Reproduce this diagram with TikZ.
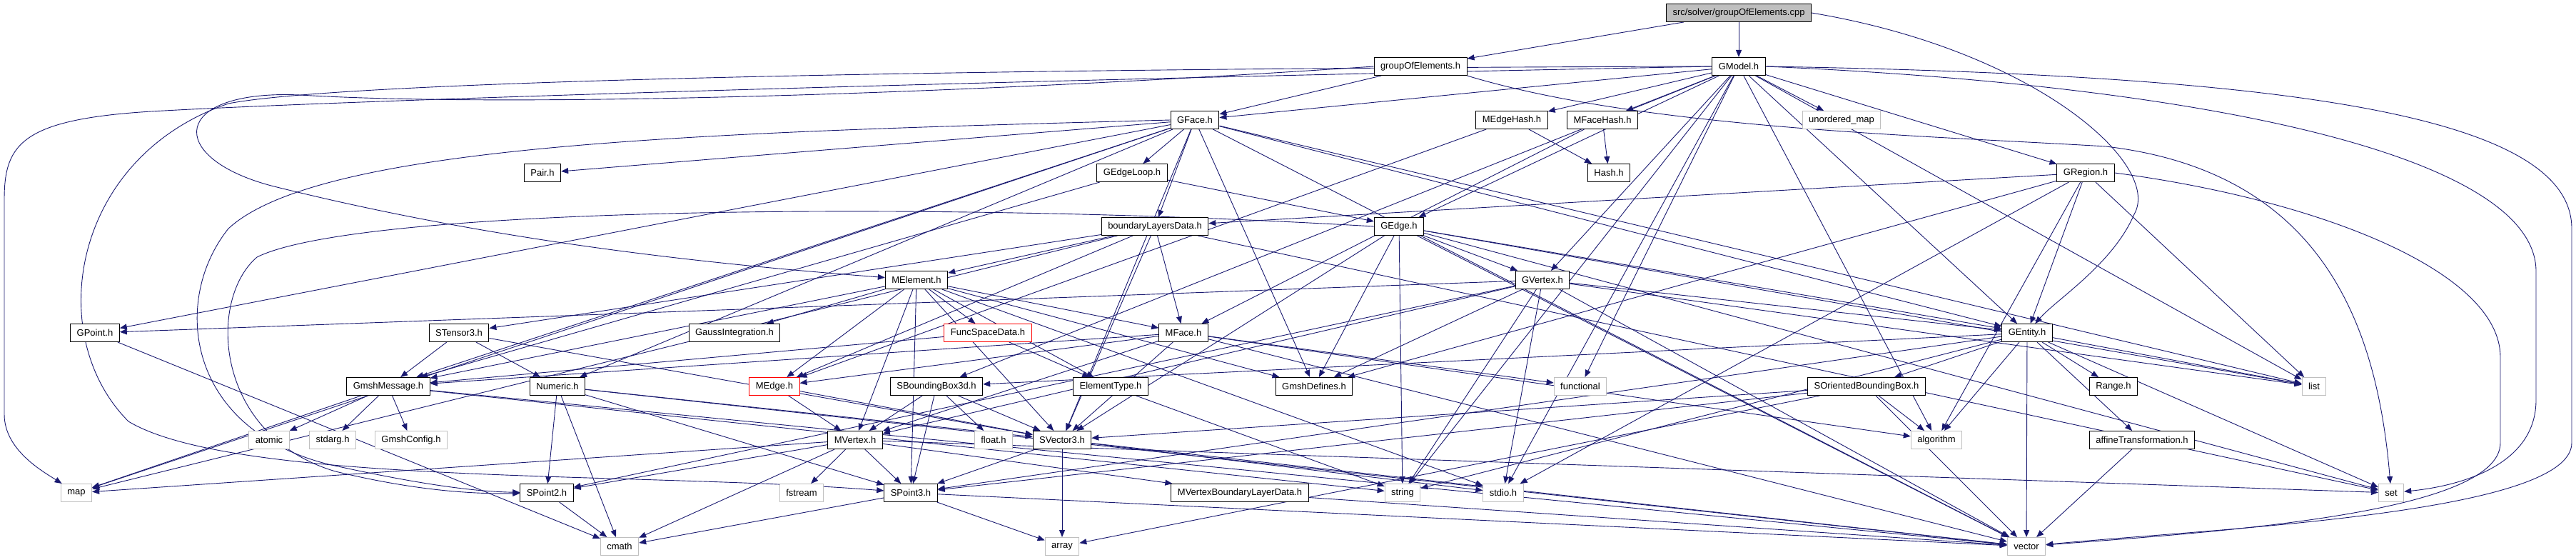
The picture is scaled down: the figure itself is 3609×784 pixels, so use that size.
\documentclass[tikz,border=0pt]{standalone}
\usepackage{fontspec}
\newfontfamily\nodefont{Liberation Sans}
\usetikzlibrary{arrows.meta}
\pgfdeclarelayer{bg}
\pgfsetlayers{bg,main}
\definecolor{edgeblue}{HTML}{191970}
\definecolor{sysgray}{HTML}{BFBFBF}
\begin{document}
\begin{tikzpicture}[x=1pt,y=-1pt,
  box/.style={draw=black, fill=white, line width=1pt, minimum height=25pt, inner xsep=9pt, inner ysep=0pt, font=\nodefont\fontsize{13}{15}\selectfont},
  sys/.style={box, draw=sysgray},
  trunc/.style={box, draw=red},
  root/.style={box, fill=sysgray},
  dep/.style={draw=edgeblue, line width=0.9pt, -{Triangle[length=10pt,width=8pt]}}]
\path[use as bounding box] (0,0) rectangle (3609,784);
% row 0-1
\node[root] (src) at (2436,18) {src/solver/groupOfElements.cpp};
\node[box] (goe) at (1990,93) {groupOfElements.h};
\node[box] (GModel) at (2436,93) {GModel.h};
% row 2
\node[box] (GFace) at (1674,168) {GFace.h};
\node[box] (MEdgeHash) at (2118,168) {MEdgeHash.h};
\node[box] (MFaceHash) at (2245,168) {MFaceHash.h};
\node[sys] (umap) at (2580,168) {unordered\_map};
% row 3
\node[box] (Pair) at (760,242) {Pair.h};
\node[box] (GEdgeLoop) at (1586,242) {GEdgeLoop.h};
\node[box] (Hash) at (2254,242) {Hash.h};
\node[box] (GRegion) at (2922,242) {GRegion.h};
% row 4
\node[box] (bld) at (1618,317) {boundaryLayersData.h};
\node[box] (GEdge) at (1960,317) {GEdge.h};
% row 5
\node[box] (MElement) at (1284,392) {MElement.h};
\node[box] (GVertex) at (2161,392) {GVertex.h};
% row 6
\node[box] (GPoint) at (133,466) {GPoint.h};
\node[box] (STensor) at (643,466) {STensor3.h};
\node[box] (Gauss) at (1029,466) {GaussIntegration.h};
\node[trunc] (FuncSpace) at (1384,466) {FuncSpaceData.h};
\node[box] (MFace) at (1658,466) {MFace.h};
\node[box] (GEntity) at (2840,466) {GEntity.h};
% row 7
\node[box] (GmshMessage) at (544,541) {GmshMessage.h};
\node[box] (Numeric) at (781,541) {Numeric.h};
\node[trunc] (MEdge) at (1085,541) {MEdge.h};
\node[box] (SBB) at (1312,541) {SBoundingBox3d.h};
\node[box] (ElementType) at (1556,541) {ElementType.h};
\node[box] (GmshDefines) at (1841,541) {GmshDefines.h};
\node[sys] (functional) at (2214,541) {functional};
\node[box] (SOBB) at (2615,541) {SOrientedBoundingBox.h};
\node[box] (Range) at (2961,541) {Range.h};
\node[sys] (list) at (3242,541) {list};
% row 8
\node[sys] (atomic) at (377,616) {atomic};
\node[sys] (stdarg) at (466,616) {stdarg.h};
\node[sys] (GmshConfig) at (576,616) {GmshConfig.h};
\node[box] (MVertex) at (1198,616) {MVertex.h};
\node[sys] (float) at (1392,616) {float.h};
\node[box] (SVector) at (1488,616) {SVector3.h};
\node[sys] (algorithm) at (2713,616) {algorithm};
\node[box] (affine) at (3001,616) {affineTransformation.h};
% row 9
\node[sys] (map) at (107,690) {map};
\node[box] (SPointTwo) at (766,690) {SPoint2.h};
\node[sys] (fstream) at (1123,690) {fstream};
\node[box] (SPointThree) at (1276,690) {SPoint3.h};
\node[box] (MVBLD) at (1737,690) {MVertexBoundaryLayerData.h};
\node[sys] (string) at (1965,690) {string};
\node[sys] (stdio) at (2106,690) {stdio.h};
\node[sys] (set) at (3350,690) {set};
% row 10
\node[sys] (cmath) at (868,765) {cmath};
\node[sys] (array) at (1488,765) {array};
\node[sys] (vector) at (2839,765) {vector};

\begin{pgfonlayer}{bg}
\foreach \a/\b in {src/goe, src/GModel, goe/GFace,
  GModel/GFace, GModel/MEdgeHash, GModel/MFaceHash, GModel/umap, GModel/GRegion, GModel/GEdge,
  GModel/GVertex, GModel/GEntity, GModel/SBB, GModel/list, GModel/string, GModel/functional,
  GModel/algorithm, GModel/stdio,
  GFace/GEdgeLoop, GFace/bld, GFace/Pair, GFace/GPoint, GFace/map, GFace/Numeric,
  GFace/GmshDefines, GFace/GEntity, GFace/list, GFace/vector, GFace/SVector, GFace/GmshMessage,
  GEdgeLoop/GEdge, GEdgeLoop/GmshMessage,
  MEdgeHash/Hash, MEdgeHash/MEdge, MFaceHash/Hash, MFaceHash/MFace,
  GRegion/bld, GRegion/GEntity, GRegion/GmshDefines, GRegion/list, GRegion/stdio, GRegion/algorithm,
  bld/MElement, bld/STensor, bld/MFace, bld/MEdge, bld/SVector, bld/map, bld/set,
  GEdge/GVertex, GEdge/GEntity, GEdge/GmshDefines, GEdge/string, GEdge/list, GEdge/set,
  GEdge/vector, GEdge/SVector,
  GVertex/GEntity, GVertex/GPoint, GVertex/GmshDefines, GVertex/string, GVertex/stdio, GVertex/list,
  GVertex/vector, GVertex/SPointTwo, GVertex/MVertex,
  MElement/Gauss, MElement/FuncSpace, MElement/MFace, MElement/MEdge, MElement/MVertex, MElement/ElementType,
  MElement/SVector, MElement/GmshMessage, MElement/GmshDefines, MElement/stdio, MElement/SPointThree,
  FuncSpace/ElementType, FuncSpace/GmshMessage,
  MFace/MEdge, MFace/MVertex, MFace/SVector, MFace/GmshMessage, MFace/functional,
  MFace/vector, MFace/algorithm,
  GEntity/Range, GEntity/list, GEntity/set, GEntity/vector, GEntity/affine, GEntity/SOBB, GEntity/algorithm,
  GEntity/string, GEntity/SBB, GEntity/SPointThree,
  STensor/GmshMessage, STensor/Numeric, STensor/SVector,
  GmshMessage/atomic, GmshMessage/stdarg, GmshMessage/GmshConfig, GmshMessage/map, GmshMessage/string, GmshMessage/vector,
  Numeric/SPointTwo, Numeric/cmath, Numeric/SPointThree, Numeric/SVector, Numeric/vector,
  MEdge/MVertex, MEdge/SVector,
  SBB/MVertex, SBB/float, SBB/SPointThree, SBB/SVector,
  ElementType/string,
  SOBB/algorithm, SOBB/vector, SOBB/SVector, SOBB/SPointThree, SOBB/array,
  MVertex/SPointTwo, MVertex/SPointThree, MVertex/fstream, MVertex/cmath, MVertex/map, MVertex/set,
  MVertex/MVBLD,
  SVector/SPointThree, SVector/array, SVector/stdio, SVector/vector,
  SPointTwo/cmath, SPointThree/cmath, SPointThree/array, SPointThree/vector,
  affine/vector, MVBLD/vector, GPoint/cmath}
  {\draw[dep] (\a) -- (\b);}
% routed edges
\draw[dep] (src.east) .. controls (2850,70) and (3030,230) .. (2990,300) .. controls (2960,370) and (2880,420) .. (GEntity);
\draw[dep] (GModel.west) .. controls (1400,112) and (500,140) .. (230,155) .. controls (30,165) and (6,200) .. (6,280) -- (6,580) .. controls (6,630) and (60,660) .. (map);
\draw[dep] (GModel.west) .. controls (1500,95) and (500,110) .. (320,145) .. controls (100,220) and (60,470) .. (180,590) .. controls (330,680) and (900,660) .. (SPointThree);
\draw[dep] (goe.west) .. controls (1300,135) and (700,150) .. (420,133) .. controls (240,125) and (230,220) .. (380,260) .. controls (700,340) and (1000,370) .. (MElement);
\draw[dep] (goe.south east) .. controls (2300,180) and (2700,190) .. (2950,205) .. controls (3250,240) and (3330,450) .. (set);
\draw[dep] (GModel.east) .. controls (3200,105) and (3603,160) .. (3603,320) -- (3603,620) .. controls (3603,720) and (3100,740) .. (vector);
\draw[dep] (GModel.east) .. controls (3100,120) and (3553,220) .. (3553,380) -- (3553,560) .. controls (3553,650) and (3450,680) .. (set);
\draw[dep] (GRegion.east) .. controls (3250,280) and (3503,380) .. (3503,500) -- (3503,620) .. controls (3503,720) and (3100,745) .. (vector);
\draw[dep] (GFace.west) .. controls (1000,185) and (450,200) .. (320,320) .. controls (240,420) and (260,600) .. (460,650) .. controls (560,672) and (650,688) .. (SPointTwo);
\draw[dep] (GEdge.west) .. controls (1300,280) and (500,290) .. (360,360) .. controls (290,420) and (300,610) .. (470,660) .. controls (570,684) and (650,692) .. (SPointTwo);
\end{pgfonlayer}
\end{tikzpicture}
\end{document}
